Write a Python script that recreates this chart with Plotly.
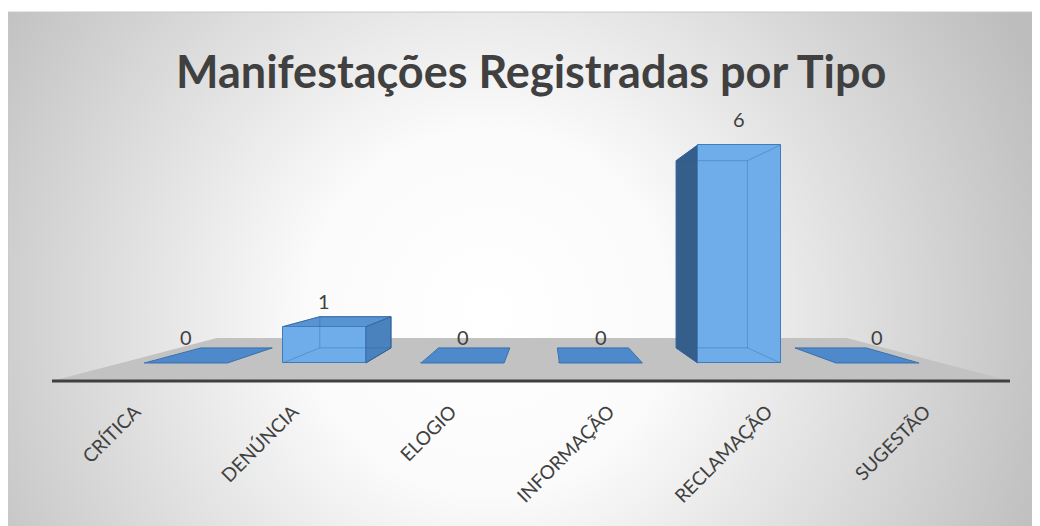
import base64
import plotly.graph_objects as go

# ---- data ----
categories = ["CRÍTICA", "DENÚNCIA", "ELOGIO", "INFORMAÇÃO", "RECLAMAÇÃO", "SUGESTÃO"]
values = [0, 1, 0, 0, 6, 0]
title_text = "Manifestações Registradas por Tipo"

W, H = 1040, 526
OFF = 8  # browser body margin offset (px)

# ---- perspective helpers (data units) ----
VPX, VPY, K = 2.596, 2.945, 0.859   # vanishing point & depth factor
HALF = 0.30                          # half bar width (category units)


def back(x, y):
    return VPX + K * (x - VPX), VPY + K * (y - VPY)


def poly(pts):
    return "M " + " L ".join(f"{x:.4f},{y:.4f}" for x, y in pts) + " Z"


shapes = []

# floor (decoration, data-coord trapezoid)
floor = [(-0.969, -0.495), (0.224, 0.688), (4.779, 0.688), (5.958, -0.495)]
shapes.append(dict(type="path", xref="x", yref="y", path=poly(floor),
                   fillcolor="#c2c2c2", line=dict(width=0), layer="below"))
shapes.append(dict(type="line", xref="x", yref="y", x0=-0.969, y0=-0.495, x1=5.958, y1=-0.495,
                   line=dict(color="#404040", width=3), layer="below"))

above_lines = []
for i, v in enumerate(values):
    x0, x1 = i - HALF, i + HALF
    # side face
    if v > 0:
        sx = x1 if i < VPX else x0
        side = [(sx, 0), (sx, v), back(sx, v), back(sx, 0)]
        shapes.append(dict(type="path", xref="x", yref="y", path=poly(side),
                           fillcolor="#4a82be" if i < VPX else "#355e8a",
                           line=dict(color="#2f5f93", width=1), layer="below"))
    # top face
    if v < VPY:
        top = [(x0, v), (x1, v), back(x1, v), back(x0, v)]
        shapes.append(dict(type="path", xref="x", yref="y", path=poly(top),
                           fillcolor="#4e8acb" if v == 0 else "#5893d4",
                           line=dict(color="#3a70aa", width=1), layer="below"))
    # translucent hidden edges
    if v > 0:
        bl, br = back(x0, 0), back(x1, 0)
        tl, tr = back(x0, v), back(x1, v)
        for a, b in [(bl, br), (br, tr), (tr, tl), (tl, bl), ((x1, v), tr), ((x0, v), tl), ((x1, 0), br), ((x0, 0), bl)]:
            above_lines.append(dict(type="line", xref="x", yref="y", x0=a[0], y0=a[1], x1=b[0], y1=b[1],
                                    line=dict(color="rgba(45,95,155,0.35)", width=1), layer="above"))

shapes.extend(above_lines)

# chart border
shapes.append(dict(type="rect", xref="paper", yref="paper", x0=0.0, x1=1.0, y0=0, y1=1 - 4 / H,
                   line=dict(color="#c8c8c8", width=1), fillcolor="rgba(0,0,0,0)", layer="above"))

# ---- background radial gradient (SVG image) ----
svg = """<svg xmlns='http://www.w3.org/2000/svg' width='1040' height='522' viewBox='0 0 1040 522'>
<defs><radialGradient id='g' gradientUnits='userSpaceOnUse' cx='480' cy='300' r='600'>
<stop offset='0' stop-color='#ffffff'/><stop offset='0.3' stop-color='#fbfbfb'/>
<stop offset='1' stop-color='#bdbdbd'/></radialGradient></defs>
<rect width='1040' height='522' fill='url(#g)'/></svg>"""
src = "data:image/svg+xml;base64," + base64.b64encode(svg.encode()).decode()

fig = go.Figure()
fig.add_trace(go.Bar(
    x=list(range(len(categories))), y=values, width=2 * HALF,
    marker=dict(color="#6eacea", line=dict(color="#3f7cbe", width=1)),
    hoverinfo="skip", showlegend=False,
))
# invisible carrier trace for the category tick axis
fig.add_trace(go.Scatter(
    x=list(range(len(categories))), y=values, xaxis="x2", yaxis="y",
    mode="markers", marker=dict(opacity=0), hoverinfo="skip", showlegend=False,
))

annotations = [dict(x=i, y=v, xref="x", yref="y", text=str(v), showarrow=False,
                    yanchor="middle", yshift=26, font=dict(family="Lato", size=20, color="#404040"))
               for i, v in enumerate(values)]
annotations.append(dict(text=f"<b>{title_text}</b>", x=(531 - OFF) / W, y=1 - (71 - OFF) / H,
                        xref="paper", yref="paper",
                        showarrow=False, xanchor="center", yanchor="middle",
                        font=dict(family="Lato", size=45, color="#404040")))

fig.update_layout(
    width=W, height=H, margin=dict(l=0, r=0, t=0, b=0),
    paper_bgcolor="white", plot_bgcolor="rgba(0,0,0,0)",
    images=[dict(source=src, xref="paper", yref="paper", x=0, y=1 - 4 / H,
                 sizex=1, sizey=1 - 4 / H, sizing="stretch", xanchor="left", yanchor="top",
                 layer="below")],
    shapes=shapes, annotations=annotations,
    xaxis=dict(range=[-1.287, 6.233], visible=False, fixedrange=True),
    yaxis=dict(range=[-4.707, 9.771], visible=False, fixedrange=True),
    xaxis2=dict(overlaying="x", anchor="free", position=1 - (396 - OFF) / H, range=[-0.804, 5.778],
                tickmode="array", tickvals=list(range(len(categories))), ticktext=categories,
                tickangle=-45, showgrid=False, zeroline=False, showline=False, ticks="",
                tickfont=dict(family="Lato", size=19, color="#404040"), automargin=False,
                fixedrange=True),
    bargap=0,
)
fig.write_html("out.html")
